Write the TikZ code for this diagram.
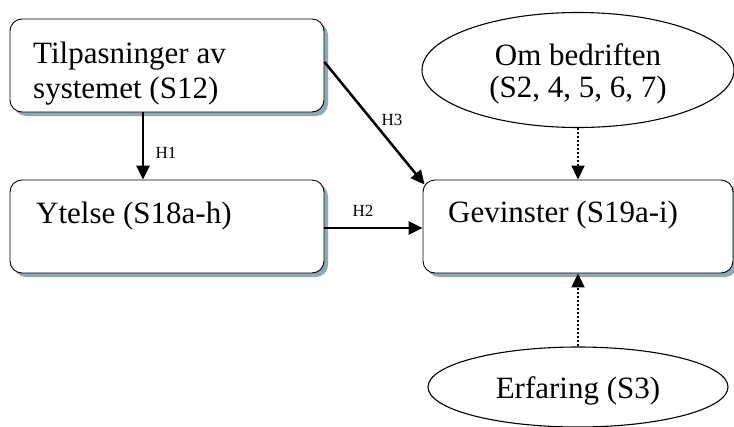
\documentclass[tikz,border=0pt]{standalone}
\usepackage{fontspec}
\setmainfont{Liberation Serif}
\usetikzlibrary{arrows.meta,shapes.geometric,shadows}
\definecolor{shadowc}{HTML}{8FAAB5}
\begin{document}
\begin{tikzpicture}[x=1pt,y=-1pt,
  box/.style={draw=black,line width=0.9pt,rounded corners=12pt,fill=white,
    minimum height=93pt,inner sep=0pt,
    drop shadow={shadow xshift=4pt,shadow yshift=-4pt,fill=shadowc,opacity=1}},
  oval/.style={ellipse,draw=black,line width=1.1pt,fill=white,inner sep=0pt},
  big/.style={font=\fontsize{31}{35}\selectfont,inner sep=0pt},
  small/.style={font=\fontsize{17}{19}\selectfont,inner sep=0pt},
  arr/.style={line width=2.5pt,-{Triangle[length=14pt,width=13pt]}},
  dotarr/.style={line width=2pt,dotted,-{Triangle[length=14pt,width=13pt]}}]
\useasboundingbox (0,0) rectangle (734,426);
\node[box,minimum width=314pt] (b1) at (167,65.5) {};
\node[box,minimum width=314pt] (b2) at (167,226.5) {};
\node[box,minimum width=310pt] (b3) at (578,226.5) {};
\node[oval,minimum width=312pt,minimum height=115pt] (e1) at (578,70) {};
\node[oval,minimum width=300pt,minimum height=80pt] (e2) at (578,387) {};
\node[big,anchor=base west] (t1a) at (33,63) {Tilpasninger av};
\node[big,anchor=base west] (t1b) at (33,98) {systemet (S12)};
\node[big,anchor=base west] (t2) at (36,223) {Ytelse (S18a-h)};
\node[big,anchor=base west] (t3) at (448,222) {Gevinster (S19a-i)};
\node[big,anchor=base] (t4a) at (578,65) {Om bedriften};
\node[big,anchor=base] (t4b) at (578,97) {(S2, 4, 5, 6, 7)};
\node[big,anchor=base] (t5) at (578,398) {Erfaring (S3)};
\draw[arr] ([xshift=-24pt]b1.south) -- ([xshift=-24pt]b2.north);
\draw[arr] ([yshift=-1.5pt]b2.east) -- ([yshift=-1.5pt]b3.west);
\draw[arr] ([yshift=3.5pt]b1.east) -- ([xshift=2pt,yshift=-5pt]b3.north west);
\node[small] (h1) at (166,153) {H1};
\node[small] (h2) at (363,211) {H2};
\node[small] (h3) at (392,120) {H3};
\draw[dotarr] (e1.south) -- (b3.north);
\draw[dotarr] (e2.north) -- (b3.south);
\end{tikzpicture}
\end{document}
